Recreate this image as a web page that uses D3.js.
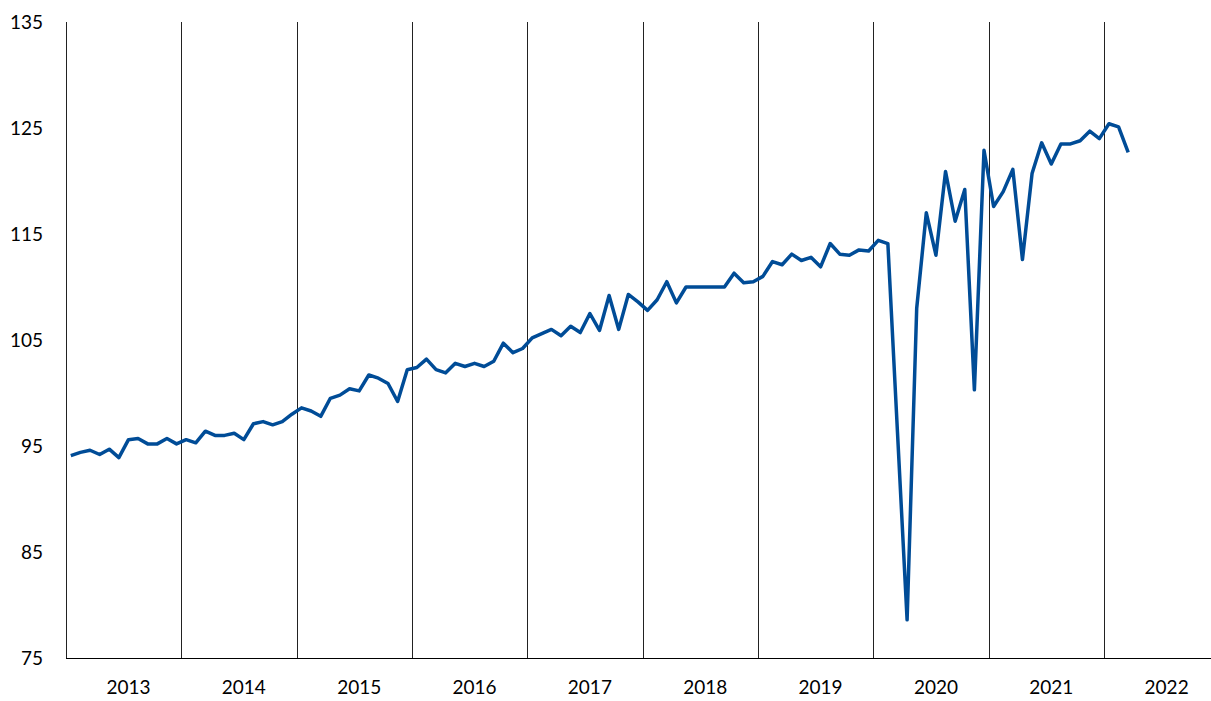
<!DOCTYPE html>
<html>
<head>
<meta charset="utf-8">
<script src="https://cdn.jsdelivr.net/npm/d3@7"></script>
<style>
  body { margin: 0; background: #fff; }
  text { font-family: Lato, "Open Sans", sans-serif; fill: #000; }
</style>
</head>
<body>
<div id="chart"></div>
<script>
// monthly index, Jan 2013 .. Mar 2022
var yearLabels = ['2013', '2014', '2015', '2016', '2017', '2018', '2019', '2020', '2021', '2022'];
var yTicks = [75, 85, 95, 105, 115, 125, 135];
var values = [
    94.1, 94.4, 94.6, 94.2, 94.7, 93.9, 95.6, 95.7, 95.2, 95.2, 95.7, 95.2,
    95.6, 95.3, 96.4, 96.0, 96.0, 96.2, 95.6, 97.1, 97.3, 97.0, 97.3, 98.0,
    98.6, 98.3, 97.8, 99.5, 99.8, 100.4, 100.2, 101.7, 101.4, 100.9, 99.2, 102.2,
    102.4, 103.2, 102.2, 101.9, 102.8, 102.5, 102.8, 102.5, 103.0, 104.7, 103.8, 104.2,
    105.2, 105.6, 106.0, 105.4, 106.3, 105.7, 107.5, 105.9, 109.2, 106.0, 109.3, 108.6,
    107.8, 108.8, 110.5, 108.5, 110.0, 110.0, 110.0, 110.0, 110.0, 111.3, 110.4, 110.5,
    111.0, 112.4, 112.1, 113.1, 112.5, 112.8, 111.9, 114.1, 113.1, 113.0, 113.5, 113.4,
    114.4, 114.1, 96.3, 78.6, 108.0, 117.0, 113.0, 120.9, 116.2, 119.2, 100.3, 122.9,
    117.6, 119.0, 121.1, 112.6, 120.7, 123.6, 121.6, 123.5, 123.5, 123.8, 124.7, 124.0,
    125.4, 125.1, 122.7
];

var width = 1211, height = 701;
var plotLeft = 66, plotRight = 1219.5, plotTop = 22, plotBottom = 658;

var svg = d3.select('#chart').append('svg')
    .attr('width', width).attr('height', height);

var x = d3.scaleLinear().domain([0, yearLabels.length * 12]).range([plotLeft, plotRight]);
var y = d3.scaleLinear().domain([75, 135]).range([plotBottom, plotTop]);

// year separators
svg.selectAll('line.sep')
    .data(d3.range(0, yearLabels.length))
    .enter().append('line')
    .attr('class', 'sep')
    .attr('x1', function(d) { return Math.round(x(d * 12)) + 0.5; })
    .attr('x2', function(d) { return Math.round(x(d * 12)) + 0.5; })
    .attr('y1', plotTop).attr('y2', plotBottom)
    .attr('stroke', '#222').attr('stroke-width', 1);

// bottom axis line
svg.append('line')
    .attr('x1', plotLeft).attr('x2', width)
    .attr('y1', plotBottom + 0.5).attr('y2', plotBottom + 0.5)
    .attr('stroke', '#000').attr('stroke-width', 1.2);

// y labels
svg.selectAll('text.ylab')
    .data(yTicks)
    .enter().append('text')
    .attr('class', 'ylab')
    .attr('x', 43)
    .attr('y', function(d) { return y(d); })
    .attr('dy', '0.35em')
    .attr('text-anchor', 'end')
    .style('font-size', '19px')
    .text(function(d) { return d; });

// x labels
svg.selectAll('text.xlab')
    .data(yearLabels)
    .enter().append('text')
    .attr('class', 'xlab')
    .attr('x', function(d, i) { return x(i * 12 + 6.5); })
    .attr('y', 694)
    .attr('text-anchor', 'middle')
    .style('font-size', '19px')
    .text(function(d) { return d; });

var line = d3.line()
    .x(function(d, i) { return x(i + 0.5); })
    .y(function(d) { return y(d); });

svg.append('path')
    .datum(values)
    .attr('d', line)
    .attr('fill', 'none')
    .attr('stroke', '#004c97')
    .attr('stroke-width', 3.5)
    .attr('stroke-linejoin', 'round');
</script>
</body>
</html>
